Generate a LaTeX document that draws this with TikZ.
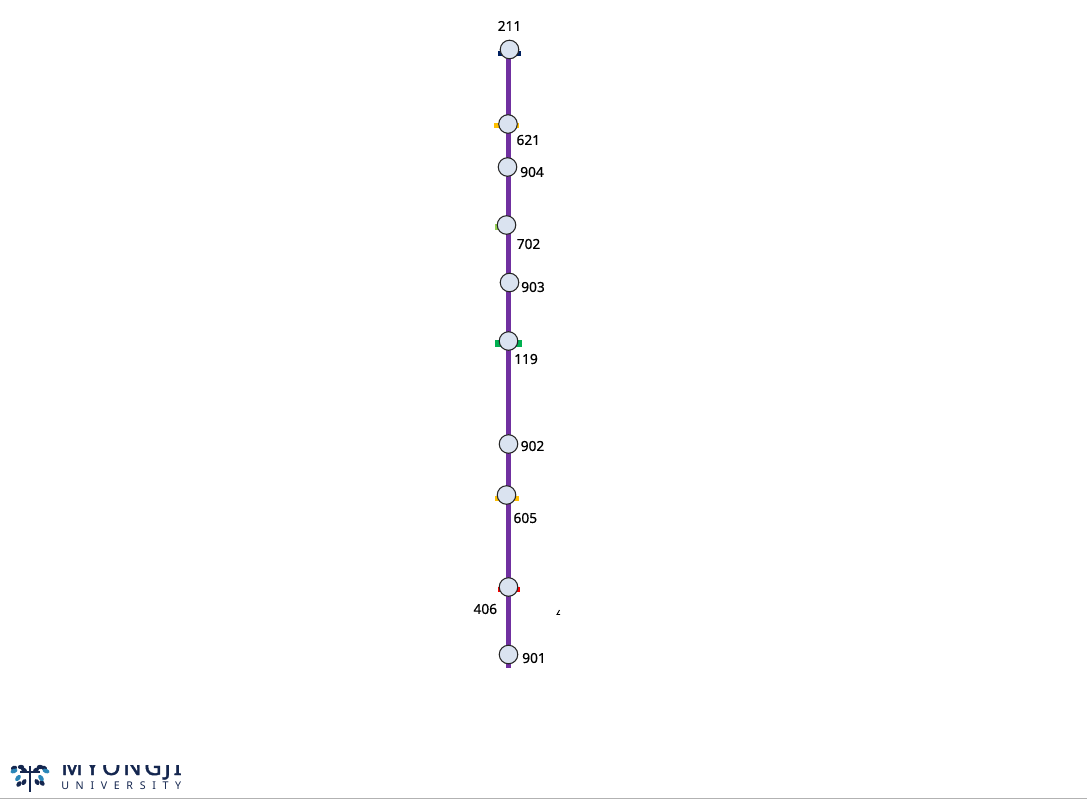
\documentclass[tikz,border=0pt]{standalone}
\usepackage{fontspec}
\setmainfont{Noto Sans}
\newfontfamily\labelfont[FakeBold=0.4]{Noto Sans}
\newfontfamily\logofont[FakeBold=1.6]{Noto Sans}
\usetikzlibrary{backgrounds}
\definecolor{linepurple}{HTML}{7030A0}
\definecolor{stationfill}{HTML}{DAE3F0}
\definecolor{navybar}{HTML}{002060}
\definecolor{yellowbar}{HTML}{FFC000}
\definecolor{limebar}{HTML}{92D050}
\definecolor{greenbar}{HTML}{00B050}
\definecolor{redbar}{HTML}{FF0000}
\definecolor{logonavy}{HTML}{14264F}
\definecolor{logoblue}{HTML}{2A86B8}
\tikzset{
  x=0.75pt,y=-0.75pt,
  station/.style={circle,draw=black!85,line width=0.8pt,fill=stationfill,minimum size=13.9pt,inner sep=0pt},
  stationlabel/.style={font=\labelfont\fontsize{10.3}{12}\selectfont,text=black,inner sep=0pt,draw=none},
  routeline/.style={draw=linepurple,line width=3.9pt},
  leaf/.style={fill=logonavy,draw=none},
  leafb/.style={fill=logoblue,draw=none},
}
\begin{document}
\begin{tikzpicture}
\useasboundingbox (0,0) rectangle (1087,799);
% stations
\node[station] (s211) at (509.5,49.5) {};
\node[station] (s621) at (508,124) {};
\node[station] (s904) at (507.5,167) {};
\node[station] (s702) at (506.5,225) {};
\node[station] (s903) at (509.5,282.5) {};
\node[station] (s119) at (508.5,341) {};
\node[station] (s902) at (508.5,444) {};
\node[station] (s605) at (506.5,495) {};
\node[station] (s406) at (508.5,587) {};
\node[station] (s901) at (508.5,654.5) {};
\coordinate (linetop) at (508.3,52);
\coordinate (linebot) at (508.3,668);
\begin{scope}[on background layer]
  \fill[white] (0,0) rectangle (1087,799);
  \fill[navybar] (498,51) rectangle (521,56);
  \fill[yellowbar] (494,123) rectangle (519,128);
  \fill[limebar] (495,224) rectangle (500,230);
  \fill[greenbar] (495,340) rectangle (522,347);
  \fill[yellowbar] (495,496) rectangle (519,501);
  \fill[redbar] (498,587) rectangle (520,592);
  \draw[routeline] (linetop) -- (linebot);
\end{scope}
% labels
\node[stationlabel] (l211) at (509.5,26) {211};
\node[stationlabel] (l621) at (528.3,140) {621};
\node[stationlabel] (l904) at (532,172) {904};
\node[stationlabel] (l702) at (528.5,244) {702};
\node[stationlabel] (l903) at (533,287) {903};
\node[stationlabel] (l119) at (526,359) {119};
\node[stationlabel] (l902) at (532.5,446) {902};
\node[stationlabel] (l605) at (525.3,518) {605};
\node[stationlabel] (l406) at (485.3,609) {406};
\node[stationlabel] (l901) at (534,658) {901};
% stray clipped glyph
\draw[black,line width=0.7pt] (559.5,610) -- (557,614.5) -- (560,614.5);
% logo
\begin{scope}
  \clip (0,765) rectangle (200,781);
  \node[anchor=base west,inner sep=0pt,text=logonavy,font=\logofont\fontsize{18}{18}\selectfont] (logotop) at (61,775) {M\hspace{2pt}Y\hspace{2pt}O\hspace{2pt}N\hspace{2pt}G\hspace{2pt}J\hspace{2pt}I};
\end{scope}
\node[anchor=base west,inner sep=0pt,text=logonavy,font=\fontsize{8}{8}\selectfont] (logobot) at (61,789.5) {U\hspace{5pt}N\hspace{5pt}I\hspace{5pt}V\hspace{5pt}E\hspace{5pt}R\hspace{5pt}S\hspace{5pt}I\hspace{5pt}T\hspace{5pt}Y};
\fill[logonavy] (28.5,766) rectangle (31,792);
\fill[logonavy] (20,771) rectangle (40,773);
\foreach \px/\py/\ang in {14/768/20,24/770/-30,36/770/30,44/768/-20,21/767/0,40/767/0,24/782/60,37/782/-60,19/784/50,42/783/-50}{
  \fill[leaf,rotate around={\ang:(\px,\py)}] (\px,\py) ellipse (3.2 and 2.2);
}
\foreach \px/\py/\ang in {14/771/20,46/771/-20,18/778/50,41/778/-50}{
  \fill[leafb,rotate around={\ang:(\px,\py)}] (\px,\py) ellipse (3.6 and 2.2);
}
% bottom rule
\fill[black!30] (0,798) rectangle (1087,799);
\end{tikzpicture}
\end{document}
